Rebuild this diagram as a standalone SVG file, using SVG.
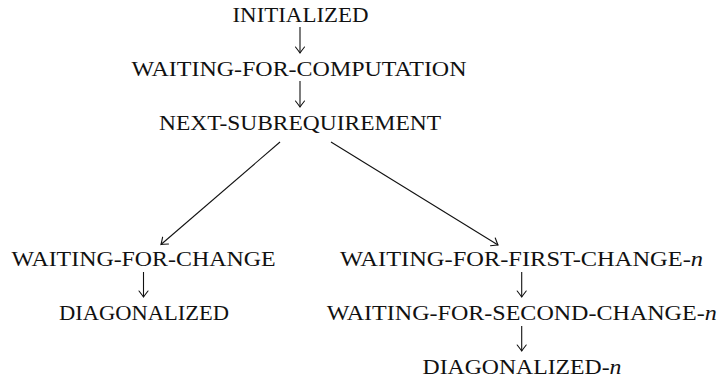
<svg xmlns="http://www.w3.org/2000/svg" width="719" height="379" viewBox="0 0 719 379">
  <defs>
    <style>
      .lbl { font-family: "Liberation Serif", "Times New Roman", serif; font-size: 21.5px; fill: #111; text-anchor: middle; }
      .var { font-style: italic; }
      .edge { fill: none; stroke: #111; stroke-width: 1.1; marker-end: url(#tip); }
    </style>
    <!-- curved "to"-style arrow tip -->
    <marker id="tip" viewBox="-8 -6 10 12" refX="0" refY="0" markerWidth="10" markerHeight="12" markerUnits="userSpaceOnUse" orient="auto">
      <path d="M -6,-4.5 Q -1.8,-1.2 0,0 Q -1.8,1.2 -6,4.5" fill="none" stroke="#111" stroke-width="1.1" stroke-linecap="round"/>
    </marker>
  </defs>
  <rect width="719" height="379" fill="#fff"/>

  <g id="connectors">
    <path class="edge" d="M 300,27 V 53"/>
    <path class="edge" d="M 300,81 V 107"/>
    <path class="edge" d="M 280,142 L 161,244.5"/>
    <path class="edge" d="M 331,142 L 498,245"/>
    <path class="edge" d="M 143.5,272 V 297"/>
    <path class="edge" d="M 521.7,272 V 297"/>
    <path class="edge" d="M 521.7,326 V 351"/>
  </g>

  <g id="initialized">
    <text class="lbl" x="300.5" y="22" textLength="136" lengthAdjust="spacingAndGlyphs">INITIALIZED</text>
  </g>
  <g id="waiting-for-computation">
    <text class="lbl" x="299" y="76" textLength="335" lengthAdjust="spacingAndGlyphs">WAITING-FOR-COMPUTATION</text>
  </g>
  <g id="next-subrequirement">
    <text class="lbl" x="300" y="130" textLength="282" lengthAdjust="spacingAndGlyphs">NEXT-SUBREQUIREMENT</text>
  </g>
  <g id="waiting-for-change">
    <text class="lbl" x="143.5" y="265.7" textLength="264" lengthAdjust="spacingAndGlyphs">WAITING-FOR-CHANGE</text>
  </g>
  <g id="diagonalized">
    <text class="lbl" x="144" y="319.5" textLength="170" lengthAdjust="spacingAndGlyphs">DIAGONALIZED</text>
  </g>
  <g id="waiting-for-first-change-n">
    <text class="lbl" x="521.5" y="266" textLength="363" lengthAdjust="spacingAndGlyphs">WAITING-FOR-FIRST-CHANGE-<tspan class="var">n</tspan></text>
  </g>
  <g id="waiting-for-second-change-n">
    <text class="lbl" x="521.7" y="320" textLength="390" lengthAdjust="spacingAndGlyphs">WAITING-FOR-SECOND-CHANGE-<tspan class="var">n</tspan></text>
  </g>
  <g id="diagonalized-n">
    <text class="lbl" x="522" y="374" textLength="199" lengthAdjust="spacingAndGlyphs">DIAGONALIZED-<tspan class="var">n</tspan></text>
  </g>
</svg>
